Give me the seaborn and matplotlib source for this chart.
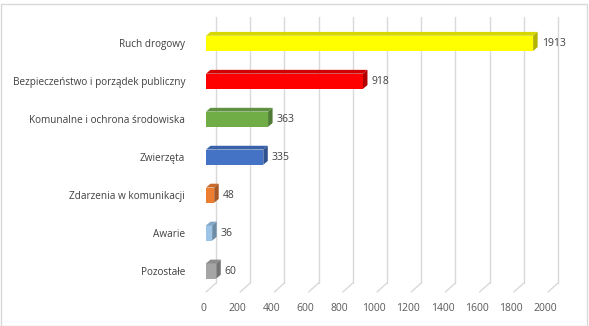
import matplotlib
matplotlib.use("Agg")
import matplotlib.pyplot as plt
import matplotlib.transforms as mtransforms
import seaborn as sns
import pandas as pd
import numpy as np
from matplotlib.patches import Polygon, Rectangle

categories = ["Ruch drogowy", "Bezpieczeństwo i porządek publiczny",
              "Komunalne i ochrona środowiska", "Zwierzęta",
              "Zdarzenia w komunikacji", "Awarie", "Pozostałe"]
values = [1913, 918, 363, 335, 48, 36, 60]
front_colors = ["#FFFF00", "#FF0000", "#70AD47", "#4472C4", "#ED7D31", "#9DC3E6", "#A5A5A5"]
top_colors = ["#D6D600", "#D00000", "#5E9140", "#3A62A8", "#C9692A", "#85A6C4", "#8C8C8C"]
side_colors = ["#B3B300", "#B00000", "#4E7A34", "#30528E", "#A85823", "#6F8CA6", "#747474"]
xticks = [0, 200, 400, 600, 800, 1000, 1200, 1400, 1600, 1800, 2000]

df = pd.DataFrame({"cat": categories, "val": values})

sns.set_theme(style="white")
plt.rcParams['font.family'] = ['Open Sans', 'DejaVu Sans']

W, H, DPI = 589, 326, 100
fig = plt.figure(figsize=(W / DPI, H / DPI), dpi=DPI)

# axes in pixel geometry
x0_px, x1_px = 206, 548      # 0 .. 2000
top_px, bot_px = 10, 292
ax = fig.add_axes([x0_px / W, 1 - bot_px / H, (x1_px - x0_px) / W, (bot_px - top_px) / H])

sns.barplot(data=df, y="cat", x="val", hue="cat", palette=front_colors,
            orient="h", width=0.40, ax=ax, legend=False, saturation=1,
            linewidth=0, zorder=3)

spacing = 37.95
c0 = 43.3
ax.set_xlim(0, 2000)
ax.set_ylim((bot_px - c0) / spacing, (top_px - c0) / spacing)

px_x = 2000 / (x1_px - x0_px)   # data units per px (x)
px_y = 1 / spacing              # data units per px (y), y axis inverted

# wall depth and bar depth in px
wall_dx, wall_dy = 10, 9
bar_dx, bar_dy = 4.5, 3.8
grid_top_px = 17

# gridlines on back wall + floor diagonals
floor_front_y = (bot_px - c0) / spacing
floor_back_y = floor_front_y - wall_dy * px_y
grid_top_y = (grid_top_px - c0) / spacing
for t in xticks:
    xb = t + wall_dx * px_x
    ax.plot([xb, xb], [grid_top_y, floor_back_y], color="#D9D9D9", lw=1.0, zorder=1, clip_on=False)
    ax.plot([xb, t], [floor_back_y, floor_front_y], color="#D9D9D9", lw=1.0, zorder=1, clip_on=False)

# 3D faces on bars
h = 0.40
for i, v in enumerate(values):
    top = i - h / 2
    bot = i + h / 2
    dx = bar_dx * px_x
    dy = bar_dy * px_y
    top_face = Polygon([(0, top), (v, top), (v + dx, top - dy), (0 + dx, top - dy)],
                       closed=True, facecolor=top_colors[i], edgecolor="none", zorder=4, clip_on=False)
    side_face = Polygon([(v, top), (v, bot), (v + dx, bot - dy), (v + dx, top - dy)],
                        closed=True, facecolor=side_colors[i], edgecolor="none", zorder=4, clip_on=False)
    ax.add_patch(top_face)
    ax.add_patch(side_face)
    ax.text(v + dx + 4 * px_x, i, f"{v}", va="center", ha="left", fontsize=7.5,
            color="#404040", zorder=5)

ax.set_xticks(xticks)
ax.set_xticklabels([str(t) for t in xticks], fontsize=7.5, color="#595959")
ax.tick_params(axis="x", length=0, pad=8)
shift = mtransforms.ScaledTranslation(-3 / DPI, 0, fig.dpi_scale_trans)
for lbl in ax.get_xticklabels():
    lbl.set_transform(lbl.get_transform() + shift)
ax.tick_params(axis="y", length=0, pad=15, labelsize=7.2, labelcolor="#404040")
ax.set_xlabel("")
ax.set_ylabel("")
for s in ax.spines.values():
    s.set_visible(False)
ax.patch.set_alpha(0)

# chart border
fig.patches.append(Rectangle((0.5 / W, 0.5 / H), 586 / W, (H - 4) / H, transform=fig.transFigure,
                             fill=False, edgecolor="#D9D9D9", lw=1.0))

fig.savefig("out.png", dpi=DPI)
